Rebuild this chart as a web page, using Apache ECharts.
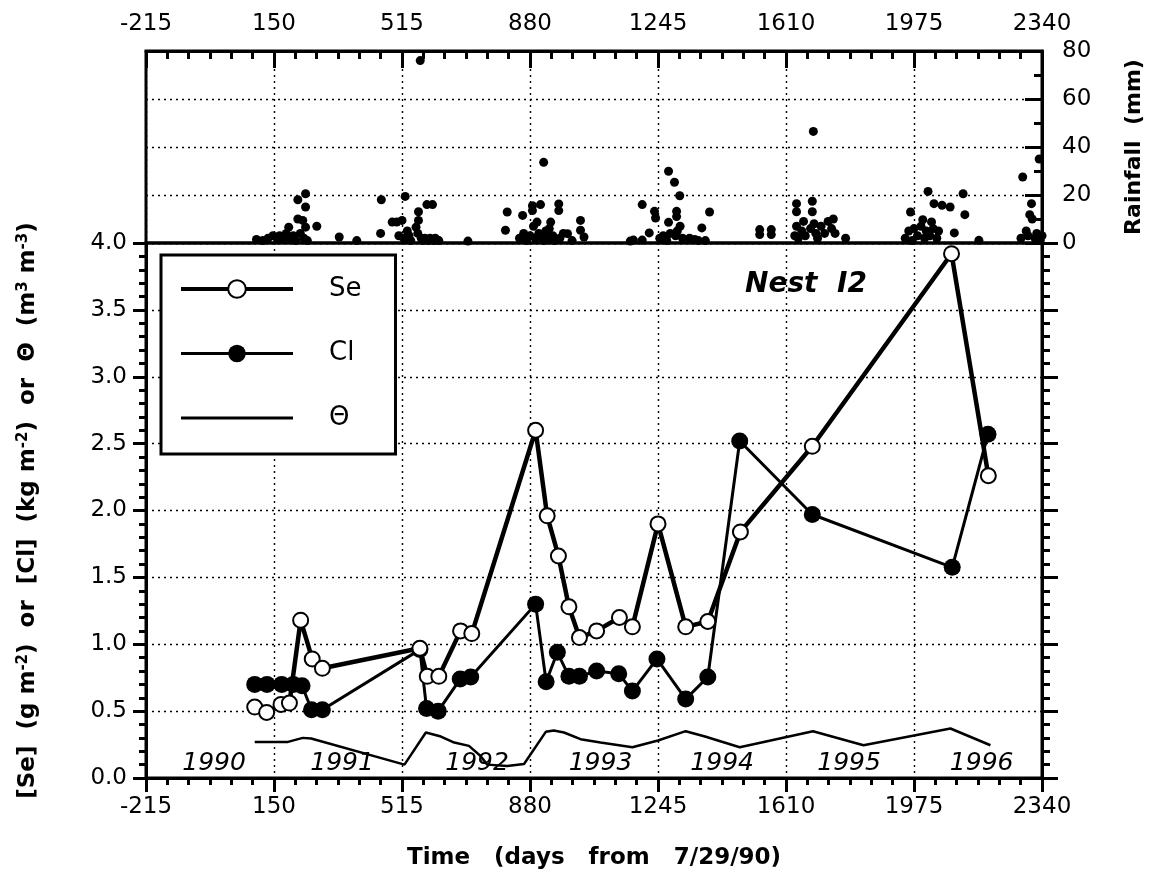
<!DOCTYPE html>
<html>
<head>
<meta charset="utf-8">
<script src="https://cdn.jsdelivr.net/npm/echarts@6/dist/echarts.min.js"></script>
<style>
  html, body { margin: 0; padding: 0; background: #fff; }
  #chart { width: 1149px; height: 874px; }
</style>
</head>
<body>
<div id="chart"></div>
<script>
// Time axis: days from 7/29/90, ticks every 365 days
const dayMin = -215;
const dayMax = 2340;
const dayStep = 365;

// Selenium inventory (g m-2)
const seDays = [95, 129, 170, 194, 226, 259, 288, 566, 587, 620, 682, 714, 896, 929, 961, 991, 1021, 1070, 1135, 1172, 1245, 1324, 1387, 1480, 1685, 2082, 2187];
const seVals = [0.53, 0.49, 0.55, 0.56, 1.18, 0.89, 0.82, 0.97, 0.76, 0.76, 1.10, 1.08, 2.60, 1.96, 1.66, 1.28, 1.05, 1.10, 1.20, 1.13, 1.90, 1.13, 1.17, 1.84, 2.48, 3.92, 2.26];

// Chloride inventory (kg m-2)
const clDays = [95, 130, 172, 205, 230, 257, 288, 566, 585, 618, 681, 711, 896, 926, 958, 991, 1021, 1070, 1133, 1172, 1242, 1324, 1387, 1478, 1685, 2084, 2186];
const clVals = [0.70, 0.70, 0.70, 0.70, 0.69, 0.51, 0.51, 0.96, 0.52, 0.50, 0.74, 0.755, 1.30, 0.72, 0.94, 0.76, 0.76, 0.80, 0.78, 0.65, 0.89, 0.59, 0.755, 2.52, 1.97, 1.575, 2.57];

// Volumetric water content (m3 m-3)
const thDays = [95, 190, 232, 256, 522, 583, 626, 664, 706, 739, 758, 815, 863, 925, 948, 977, 1024, 1081, 1172, 1245, 1324, 1379, 1478, 1687, 1831, 2079, 2193];
const thVals = [0.27, 0.27, 0.30, 0.295, 0.10, 0.34, 0.31, 0.265, 0.24, 0.165, 0.10, 0.09, 0.105, 0.345, 0.355, 0.34, 0.29, 0.265, 0.23, 0.28, 0.35, 0.31, 0.23, 0.35, 0.245, 0.37, 0.245];

// Daily rainfall (mm)
const rainDay = [100, 118, 133, 147, 160, 166, 175, 185, 192, 194, 205, 212, 218, 218, 225, 232, 235, 240, 240, 240, 245, 272, 336, 386,
  454, 456, 487, 500, 506, 515, 520, 524, 530, 535, 540, 555, 560, 562, 562, 567, 570, 575, 580, 586, 590, 595, 602, 605, 610, 620, 703,
  810, 815, 850, 859, 862, 870, 880, 887, 887, 890, 895, 900, 905, 910, 915, 919, 920, 925, 930, 935, 939, 945, 950, 962, 962, 965, 975, 987, 1000, 1024, 1024, 1034,
  1166, 1175, 1200, 1200, 1220, 1235, 1238, 1250, 1260, 1270, 1275, 1275, 1280, 1292, 1295, 1298, 1298, 1300, 1307, 1308, 1315, 1335, 1350, 1360, 1370, 1380, 1392,
  1535, 1535, 1568, 1568, 1635, 1640, 1640, 1640, 1645, 1655, 1660, 1665, 1680, 1685, 1685, 1688, 1690, 1695, 1700, 1710, 1720, 1730, 1740, 1745, 1750, 1780,
  1950, 1960, 1965, 1970, 1975, 1985, 1995, 2000, 2005, 2010, 2015, 2020, 2025, 2030, 2032, 2040, 2045, 2055, 2078, 2090, 2115, 2120, 2160,
  2280, 2285, 2295, 2300, 2305, 2310, 2312, 2320, 2325, 2332, 2335, 2340];
const rainMm = [1.5, 1, 2, 3, 1.5, 3, 2, 4, 6.6, 2, 3, 1, 10, 18, 4, 9.4, 2, 6.6, 15, 20.5, 1, 7, 2.5, 1,
  4, 18, 8.7, 8.7, 3, 9.4, 2, 19.4, 5, 3, 1, 6.6, 4, 9.4, 13, 76, 2, 1, 2, 16, 1, 2, 16, 1, 2, 1, 0.8,
  5.3, 12.9, 2, 11.5, 4, 1, 3, 13.5, 15.5, 7, 2, 8.7, 4, 16, 2, 33.6, 1, 5, 2, 6, 8.7, 3, 1, 13.5, 16.3, 2, 4, 3.9, 1, 5.3, 9.4, 2.5,
  0.8, 1.2, 16, 1.2, 4.2, 13.2, 10.4, 2, 3, 1, 29.9, 8.6, 4, 25.3, 3, 13.2, 11, 5, 19.7, 7, 2, 2, 1.5, 1, 6.3, 1, 12.9,
  5.6, 3.5, 5.6, 3.5, 3, 16.4, 13, 7, 2, 5, 9, 3, 6, 17.4, 13, 46.5, 8, 4, 2, 7, 4, 9, 6, 10, 4, 2,
  2, 5, 12.9, 1, 6, 3, 7, 9.7, 2, 5, 21.5, 3, 8.8, 6, 16.4, 2, 5, 15.7, 15, 4.2, 20.5, 11.8, 1.1,
  2, 27.5, 5, 3, 11.8, 16.4, 10, 2, 4, 35, 1, 3];

// Year annotations along the lower panel
const yearNames = ['1990', '1991', '1992', '1993', '1994', '1995', '1996'];
const yearDays = [-21, 344, 729, 1081, 1428, 1790, 2168];
const yearVal = 0.11;

const FONT = '"DejaVu Sans", "Liberation Sans", Arial, sans-serif';
const dotted = { show: true, lineStyle: { color: '#000', width: 1.4, type: [2, 4] } };
const axisLineStyle = { show: true, onZero: false, lineStyle: { color: '#000', width: 3 } };
const labelStyle = { color: '#000', fontSize: 23, fontFamily: FONT };
const nameStyle = { fontSize: 23, fontWeight: 'bold', fontFamily: FONT, color: '#000' };
const plain = v => String(v);

const zip = (xs, ys) => xs.map((x, i) => [x, ys[i]]);

const chart = echarts.init(document.getElementById('chart'), null, { renderer: 'canvas' });

const gridBase = {
  left: 146, right: 107, show: true, borderColor: '#000', borderWidth: 3,
  backgroundColor: 'transparent', containLabel: false, outerBoundsMode: 'none'
};

chart.setOption({
  animation: false,
  backgroundColor: '#fff',
  textStyle: { fontFamily: FONT, color: '#000' },
  title: {
    text: 'Nest  I2',
    left: 740, top: 266,
    textStyle: { fontSize: 28, fontWeight: 'bold', fontStyle: 'italic', fontFamily: FONT, color: '#000' }
  },
  grid: [
    Object.assign({ top: 51, height: 192 }, gridBase),
    Object.assign({ top: 243, height: 535 }, gridBase)
  ],
  legend: {
    orient: 'vertical', left: 161, top: 255,
    itemWidth: 112, itemHeight: 22, itemGap: 38.5,
    padding: [21, 34, 23, 18],
    borderColor: '#000', borderWidth: 3, backgroundColor: '#fff',
    textStyle: { fontSize: 26, fontFamily: FONT, color: '#000', padding: [0, 0, 0, 31] },
    data: [
      { name: 'Se', lineStyle: { width: 4 } },
      { name: 'Cl', lineStyle: { width: 3 } },
      { name: 'Θ', lineStyle: { width: 3 }, itemStyle: { opacity: 0 } }
    ]
  },
  xAxis: [
    {
      gridIndex: 0, type: 'value', position: 'top',
      min: dayMin, max: dayMax, interval: dayStep,
      axisLine: axisLineStyle,
      axisTick: { show: true, inside: true, length: 17, lineStyle: { color: '#000', width: 3 } },
      minorTick: { show: true, splitNumber: 6, length: 8, lineStyle: { color: '#000', width: 3 } },
      axisLabel: Object.assign({ margin: 15, formatter: plain }, labelStyle),
      splitLine: dotted
    },
    {
      gridIndex: 1, type: 'value', position: 'bottom',
      min: dayMin, max: dayMax, interval: dayStep,
      axisLine: axisLineStyle,
      axisTick: { show: true, inside: false, length: 14, lineStyle: { color: '#000', width: 3 } },
      minorTick: { show: true, splitNumber: 6, length: 7, lineStyle: { color: '#000', width: 3 } },
      axisLabel: Object.assign({ margin: 18, formatter: plain }, labelStyle),
      splitLine: dotted,
      name: 'Time   (days   from   7/29/90)',
      nameLocation: 'middle', nameGap: 69,
      nameTextStyle: nameStyle
    }
  ],
  yAxis: [
    {
      gridIndex: 0, type: 'value', position: 'right',
      min: 0, max: 80, interval: 20,
      axisLine: axisLineStyle,
      axisTick: { show: true, inside: true, length: 17, lineStyle: { color: '#000', width: 3 } },
      minorTick: { show: true, splitNumber: 2, length: 8, lineStyle: { color: '#000', width: 3 } },
      axisLabel: Object.assign({ margin: 20 }, labelStyle),
      splitLine: dotted,
      name: 'Rainfall  (mm)',
      nameLocation: 'middle', nameGap: 81, nameRotate: 90,
      nameTextStyle: Object.assign({}, nameStyle, { fontSize: 22 })
    },
    {
      gridIndex: 1, type: 'value', position: 'left',
      min: 0, max: 4, interval: 0.5,
      axisLine: axisLineStyle,
      axisTick: { show: true, inside: false, length: 13, lineStyle: { color: '#000', width: 3 } },
      minorTick: { show: true, splitNumber: 5, length: 7, lineStyle: { color: '#000', width: 3 } },
      axisLabel: Object.assign({ margin: 19, formatter: v => v.toFixed(1) }, labelStyle),
      splitLine: dotted,
      name: '[Se]  (g m{sup|-2})  or  [Cl]  (kg m{sup|-2})  or  Θ  (m{sup|3} m{sup|-3})',
      nameLocation: 'middle', nameGap: 105, nameRotate: 90,
      nameTextStyle: Object.assign({}, nameStyle, {
        rich: { sup: { fontSize: 15, fontWeight: 'bold', fontFamily: FONT, color: '#000', verticalAlign: 'top', padding: [0, 0, 10, 0] } }
      })
    },
    {
      gridIndex: 1, type: 'value', position: 'right',
      min: 0, max: 4, interval: 0.5,
      axisLine: axisLineStyle,
      axisTick: { show: true, inside: false, length: 16, lineStyle: { color: '#000', width: 3 } },
      minorTick: { show: true, splitNumber: 5, length: 8, lineStyle: { color: '#000', width: 3 } },
      axisLabel: { show: false },
      splitLine: { show: false }
    }
  ],
  series: [
    {
      name: 'Rainfall', type: 'scatter', xAxisIndex: 0, yAxisIndex: 0,
      data: zip(rainDay, rainMm), symbol: 'circle', symbolSize: 9, clip: false,
      itemStyle: { color: '#000', opacity: 1 }
    },
    {
      name: 'Θ', type: 'line', xAxisIndex: 1, yAxisIndex: 1,
      data: zip(thDays, thVals), symbol: 'none',
      lineStyle: { color: '#000', width: 2.5 }, itemStyle: { color: '#000' }, z: 3
    },
    {
      name: 'Cl', type: 'line', xAxisIndex: 1, yAxisIndex: 1,
      data: zip(clDays, clVals), symbol: 'circle', symbolSize: 17, showAllSymbol: true,
      lineStyle: { color: '#000', width: 3 }, itemStyle: { color: '#000' }, z: 4
    },
    {
      name: 'Se', type: 'line', xAxisIndex: 1, yAxisIndex: 1,
      data: zip(seDays, seVals), symbol: 'emptyCircle', symbolSize: 15, showAllSymbol: true,
      lineStyle: { color: '#000', width: 4.5 }, itemStyle: { color: '#000', borderWidth: 2.5 }, z: 5
    },
    {
      name: 'Years', type: 'scatter', xAxisIndex: 1, yAxisIndex: 1,
      data: yearDays.map((d, i) => ({ name: yearNames[i], value: [d, yearVal] })),
      symbolSize: 1, itemStyle: { opacity: 0 }, silent: true, z: 2,
      label: {
        show: true, position: 'inside', formatter: p => p.name,
        fontSize: 25, fontStyle: 'italic', fontFamily: FONT, color: '#000',
        textBorderWidth: 0, opacity: 1
      }
    }
  ]
});
</script>
</body>
</html>
